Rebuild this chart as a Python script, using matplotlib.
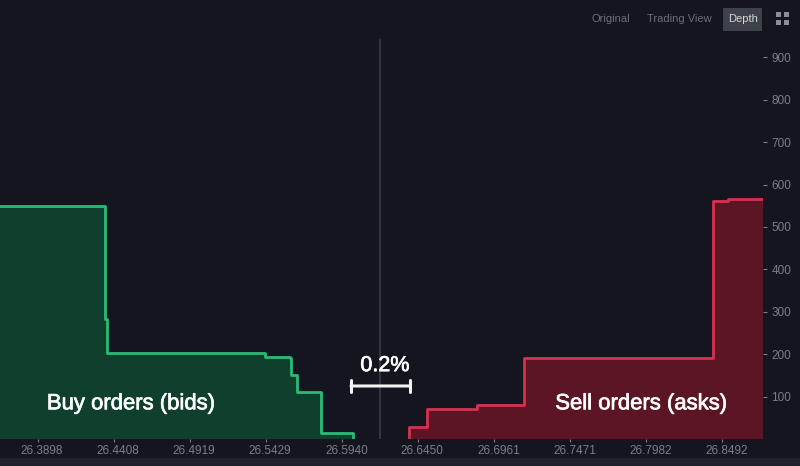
import matplotlib
matplotlib.use("Agg")
import matplotlib.pyplot as plt
import matplotlib.patheffects as pe
from matplotlib.patches import Rectangle
from matplotlib.transforms import ScaledTranslation

plt.rcParams['font.family'] = ['Liberation Sans', 'DejaVu Sans']

# depth data, each level holds until the next price
bid_price = [26.3646, 26.4351, 26.4364, 26.5411, 26.5425, 26.5592, 26.5602, 26.5639, 26.5800, 26.6015]
bid_depth = [550, 283, 203, 203, 193, 190, 150, 110, 14, 0]
ask_price = [26.6391, 26.6510, 26.6847, 26.7162, 26.8431, 26.8530, 26.8766]
ask_depth = [28, 70, 80, 190, 560, 565, 565]

mid_price = 26.6196
x_ticks = [26.3898, 26.4408, 26.4919, 26.5429, 26.5940, 26.6450, 26.6961, 26.7471, 26.7982, 26.8492]
x_labels = ["26.3898", "26.4408", "26.4919", "26.5429", "26.5940",
            "26.6450", "26.6961", "26.7471", "26.7982", "26.8492"]
y_ticks = [100, 200, 300, 400, 500, 600, 700, 800, 900]

BG = "#14151f"
GREEN = "#2abb78"
RED = "#d8304e"
GRAY = "#7d7e84"

fig = plt.figure(figsize=(8, 4.66), dpi=100, facecolor=BG)
ax = fig.add_axes([0, 27 / 466, 763 / 800, 439 / 466], facecolor=BG)

ax.fill_between(bid_price, bid_depth, 0, step="post", color="#0f3f2d", lw=0)
ax.step(bid_price + [bid_price[-1]], bid_depth + [0], where="post", color=GREEN, lw=2)

ax.fill_between(ask_price, ask_depth, 0, step="post", color="#5c1524", lw=0)
ax.step([ask_price[0]] + ask_price, [0] + ask_depth, where="post", color=RED, lw=2)

ax.axvline(mid_price, ymax=940 / 1035, color="#3a3b44", lw=1.2, zorder=1)

ax.set_xlim(26.3646, 26.8766)
ax.set_ylim(0, 1035)
for s in ax.spines.values():
    s.set_visible(False)

ax.set_xticks(x_ticks)
ax.set_xticklabels(x_labels)
ax.set_yticks(y_ticks)
ax.yaxis.tick_right()
ax.tick_params(axis="x", length=2, width=0.8, color=GRAY, labelcolor=GRAY, labelsize=8.5, pad=2)
ax.tick_params(axis="y", length=3, width=0.8, color=GRAY, labelcolor=GRAY, labelsize=8.5, pad=3)
# x labels sit a little right of their ticks
shift = ScaledTranslation(4.5 / 100, 0, fig.dpi_scale_trans)
for lab in ax.get_xticklabels():
    lab.set_transform(lab.get_transform() + shift)

# 0.2% bracket
ax.annotate("", xy=(26.6002, 125), xytext=(26.6398, 125),
            arrowprops=dict(arrowstyle="|-|,widthA=0.45,widthB=0.45", color="#f2f2f2", lw=2.2,
                            shrinkA=0, shrinkB=0))
thick = [pe.withStroke(linewidth=0.5, foreground="white")]
ax.text(mid_price + 0.0033, 173, "0.2%", color="white", fontsize=15.5, ha="center", va="center",
        path_effects=thick)
ax.text(26.4525, 83, "Buy orders (bids)", color="white", fontsize=15.9, ha="center", va="center",
        path_effects=thick)
ax.text(26.7950, 83, "Sell orders (asks)", color="white", fontsize=15.9, ha="center", va="center",
        path_effects=thick)

# strip along the bottom of the widget
fig.patches.append(Rectangle((0, 0), 1, 8 / 466, transform=fig.transFigure, color="#20212b", lw=0))

# toolbar
fig.patches.append(Rectangle((723 / 800, 1 - 31 / 466), 39 / 800, 23 / 466, transform=fig.transFigure,
                             color="#3c4248", lw=0))
fig.text(611 / 800, 1 - 19 / 466, "Original", color="#6b6d7c", fontsize=8, ha="center", va="center")
fig.text(679 / 800, 1 - 19 / 466, "Trading View", color="#6b6d7c", fontsize=8, ha="center", va="center")
fig.text(743 / 800, 1 - 19 / 466, "Depth", color="#d5d8dc", fontsize=8, ha="center", va="center")
for cx, cy in [(778, 15), (786, 15), (778, 23), (786, 23)]:
    fig.patches.append(Rectangle(((cx - 2) / 800, 1 - (cy + 2) / 466), 5 / 800, 5 / 466,
                                 transform=fig.transFigure, color="#8a8d95", lw=0))

fig.savefig("out.png", dpi=100, facecolor=BG)
